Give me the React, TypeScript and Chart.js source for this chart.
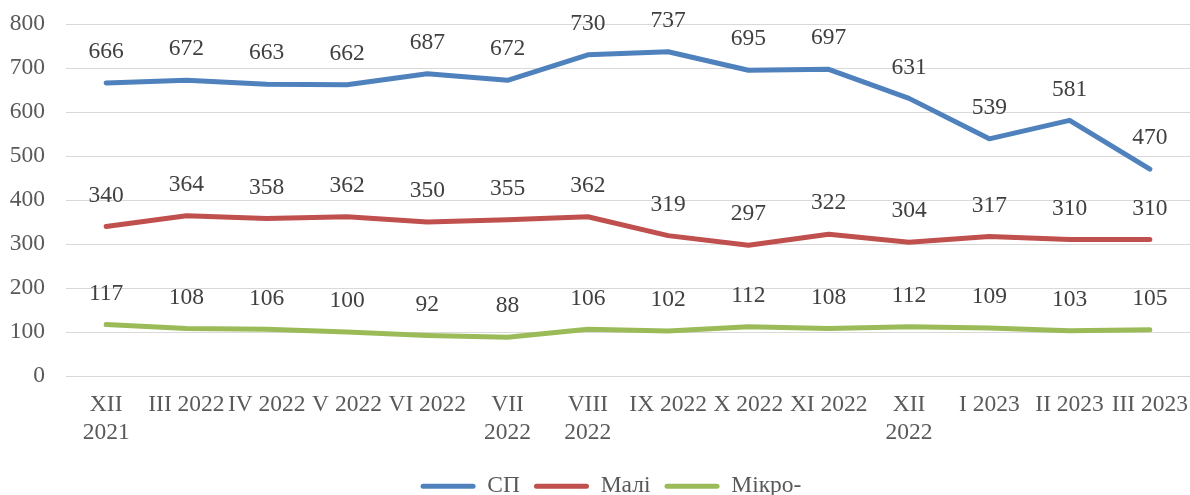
import React, { useEffect, useRef } from "react";
import { Chart, registerables } from "chart.js";

Chart.register(...registerables);

const categories: (string | string[])[] = [
  ["XII", "2021"],
  "III 2022",
  "IV 2022",
  "V 2022",
  "VI 2022",
  ["VII", "2022"],
  ["VIII", "2022"],
  "IX 2022",
  "X 2022",
  "XI 2022",
  ["XII", "2022"],
  "I 2023",
  "II 2023",
  "III 2023",
];

const spValues = [666, 672, 663, 662, 687, 672, 730, 737, 695, 697, 631, 539, 581, 470];
const maliValues = [340, 364, 358, 362, 350, 355, 362, 319, 297, 322, 304, 317, 310, 310];
const mikroValues = [117, 108, 106, 100, 92, 88, 106, 102, 112, 108, 112, 109, 103, 105];

const seriesNames = ["СП", "Малі", "Мікро-"];
const seriesColors = ["#4f81bd", "#c0504d", "#9bbb59"];

const yMin = 0;
const yMax = 800;
const yStep = 100;

const FONT = "'Liberation Serif', 'Times New Roman', serif";
const FONT_SIZE = 23.5;

const dataLabelPlugin = {
  id: "dataLabels",
  afterDatasetsDraw(chart: any) {
    const ctx = chart.ctx;
    ctx.save();
    ctx.font = `${FONT_SIZE}px ${FONT}`;
    ctx.fillStyle = "#404040";
    ctx.textAlign = "center";
    ctx.textBaseline = "middle";
    chart.data.datasets.forEach((ds: any, i: number) => {
      const meta = chart.getDatasetMeta(i);
      meta.data.forEach((pt: any, j: number) => {
        ctx.fillText(String(ds.data[j]), pt.x, pt.y - 31);
      });
    });
    ctx.restore();
  },
};

const legendShiftPlugin = {
  id: "legendShift",
  afterLayout(chart: any) {
    if (chart.legend) {
      chart.legend.left += 16;
      chart.legend.right += 16;
    }
  },
};

export default function App() {
  const canvasRef = useRef<HTMLCanvasElement | null>(null);

  useEffect(() => {
    document.body.style.margin = "0";
    const canvas = canvasRef.current;
    if (!canvas) return;
    const allValues = [spValues, maliValues, mikroValues];
    const chart = new Chart(canvas, {
      type: "line",
      data: {
        labels: categories,
        datasets: allValues.map((vals, i) => ({
          label: seriesNames[i],
          data: vals,
          borderColor: seriesColors[i],
          backgroundColor: seriesColors[i],
          borderWidth: 5,
          borderCapStyle: "round",
          borderJoinStyle: "round",
          pointRadius: 0,
          pointHoverRadius: 0,
          tension: 0,
          fill: false,
        })),
      },
      options: {
        animation: false,
        responsive: false,
        maintainAspectRatio: false,
        layout: { padding: { top: 24, left: 0, right: 0, bottom: -13 } },
        plugins: {
          tooltip: { enabled: false },
          legend: {
            display: true,
            position: "bottom",
            labels: {
              font: { family: FONT, size: FONT_SIZE },
              color: "#595959",
              boxWidth: 55,
              boxHeight: 5,
              padding: 14,
              useBorderRadius: true,
              borderRadius: 2.5,
              generateLabels: (ch: any) =>
                ch.data.datasets.map((ds: any, i: number) => ({
                  text: ds.label,
                  fillStyle: seriesColors[i],
                  strokeStyle: seriesColors[i],
                  lineWidth: 0,
                  hidden: false,
                  datasetIndex: i,
                  borderRadius: 2.5,
                  fontColor: "#595959",
                })),
            },
          },
        },
        scales: {
          x: {
            offset: true,
            grid: { display: false, drawTicks: false },
            border: { display: false },
            ticks: {
              font: { family: FONT, size: FONT_SIZE, lineHeight: 1.2 },
              color: "#595959",
              padding: 15,
              maxRotation: 0,
              minRotation: 0,
              autoSkip: false,
            },
            afterFit: (scale: any) => {
              scale.height = 84.5;
              scale.paddingLeft = 0;
              scale.paddingRight = 0;
            },
          },
          y: {
            min: yMin,
            max: yMax,
            grid: { color: "#d9d9d9", lineWidth: 1, drawTicks: false },
            border: { display: false },
            ticks: {
              stepSize: yStep,
              font: { family: FONT, size: FONT_SIZE },
              color: "#595959",
              padding: 21,
            },
            afterFit: (scale: any) => {
              scale.width = 66;
              scale.paddingTop = 0;
              scale.paddingBottom = 0;
            },
          },
        },
      },
      plugins: [dataLabelPlugin, legendShiftPlugin],
    } as any);
    return () => chart.destroy();
  }, []);

  return (
    <div style={{ width: 1190, height: 495 }}>
      <canvas ref={canvasRef} width={1190} height={495} style={{ display: "block" }} />
    </div>
  );
}
